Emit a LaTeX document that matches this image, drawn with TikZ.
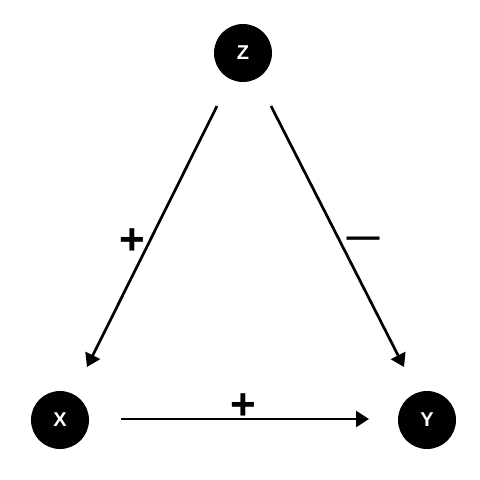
\documentclass[tikz,border=0pt]{standalone}
\usepackage{fontspec}
\setmainfont{Liberation Sans}
\usetikzlibrary{arrows.meta}
\begin{document}
\begin{tikzpicture}[x=1pt,y=-1pt,
  var/.style={circle,fill=black,minimum size=58pt,inner sep=0pt,text=white,font=\bfseries\fontsize{20}{22}\selectfont},
  edge/.style={line width=2.7pt,-{Triangle[length=13pt,width=16pt]}},
  sign/.style={inner sep=0pt,font=\bfseries\fontsize{44}{48}\selectfont},
  msign/.style={inner sep=0pt,font=\bfseries\fontsize{33}{36}\selectfont}]
\useasboundingbox (0,0) rectangle (480,480);
\node[var] (Z) at (243,53) {Z};
\node[var] (X) at (60,420) {X};
\node[var] (Y) at (427,420) {Y};
\coordinate (zl) at (217,106);
\coordinate (zr) at (271,106);
\coordinate (xt) at (87,367);
\coordinate (yt) at (404,367);
\coordinate (xs) at (121,419);
\coordinate (ye) at (369,419);
\draw[edge] (zl) -- (xt);
\draw[edge] (zr) -- (yt);
\draw[edge] (xs) -- (ye);
\node[sign] (p1) at (132,242) {+};
\node[msign] (m1) at (363,242) {—};
\node[sign] (p2) at (243,407) {+};
\end{tikzpicture}
\end{document}
